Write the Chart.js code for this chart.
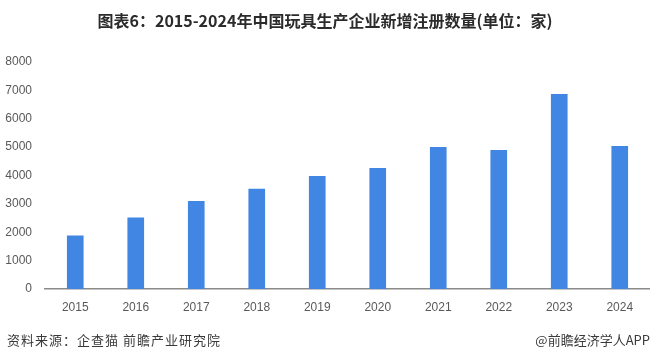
<!DOCTYPE html>
<html>
<head>
<meta charset="utf-8">
<script src="https://cdn.jsdelivr.net/npm/chart.js@4/dist/chart.umd.min.js"></script>
<style>
  html, body { margin: 0; padding: 0; background: #fff; }
  #wrap { position: relative; width: 650px; height: 360px; overflow: hidden; }
  #c { position: absolute; left: 0; top: 0; }
  .title { position: absolute; left: 0; width: 650px; top: 9px; text-align: center;
    font: bold 16px "Noto Sans CJK SC", "Noto Sans", sans-serif; color: #2b2b2b; line-height: 22px; }
  .src { position: absolute; left: 7px; top: 331px; font: 13px "Noto Sans CJK SC", sans-serif;
    color: #3a3a3a; letter-spacing: 1px; line-height: 18px; }
  .brand { position: absolute; right: 0px; top: 331px; font: 13px "Noto Sans CJK SC", sans-serif;
    color: #3a3a3a; line-height: 18px; }
</style>
</head>
<body>
<div id="wrap">
  <canvas id="c" width="650" height="360"></canvas>
  <div class="title">图表6：2015-2024年中国玩具生产企业新增注册数量(单位：家)</div>
  <div class="src">资料来源：企查猫 前瞻产业研究院</div>
  <div class="brand">@前瞻经济学人APP</div>
</div>
<script>
const categories = ["2015","2016","2017","2018","2019","2020","2021","2022","2023","2024"];
const values = [1870, 2510, 3090, 3520, 3970, 4250, 4990, 4890, 6860, 5030];
const yTicks = [0,1000,2000,3000,4000,5000,6000,7000,8000];

new Chart(document.getElementById('c'), {
  type: 'bar',
  data: {
    labels: categories,
    datasets: [{ data: values, backgroundColor: '#4186e2', barThickness: 16 }]
  },
  options: {
    responsive: false,
    animation: false,
    layout: { padding: { top: 62, right: 0, left: 0, bottom: 0 } },
    plugins: { legend: { display: false }, tooltip: { enabled: false }, title: { display: false } },
    scales: {
      x: {
        grid: { display: false, drawTicks: false },
        border: { display: true, color: '#8a8a8a', width: 1.5 },
        ticks: { color: '#595959', font: { size: 12, family: 'Liberation Sans' }, padding: 11, maxRotation: 0 },
        afterFit: (s) => { s.height = 71; }
      },
      y: {
        min: 0, max: 8000,
        afterBuildTicks: (s) => { s.ticks = yTicks.map(v => ({ value: v })); },
        grid: { display: false, drawTicks: false },
        border: { display: false },
        ticks: { color: '#595959', font: { size: 12, family: 'Liberation Sans' }, padding: 13,
                 callback: (v) => String(v) },
        afterFit: (s) => { s.width = 45; }
      }
    }
  }
});
</script>
</body>
</html>
